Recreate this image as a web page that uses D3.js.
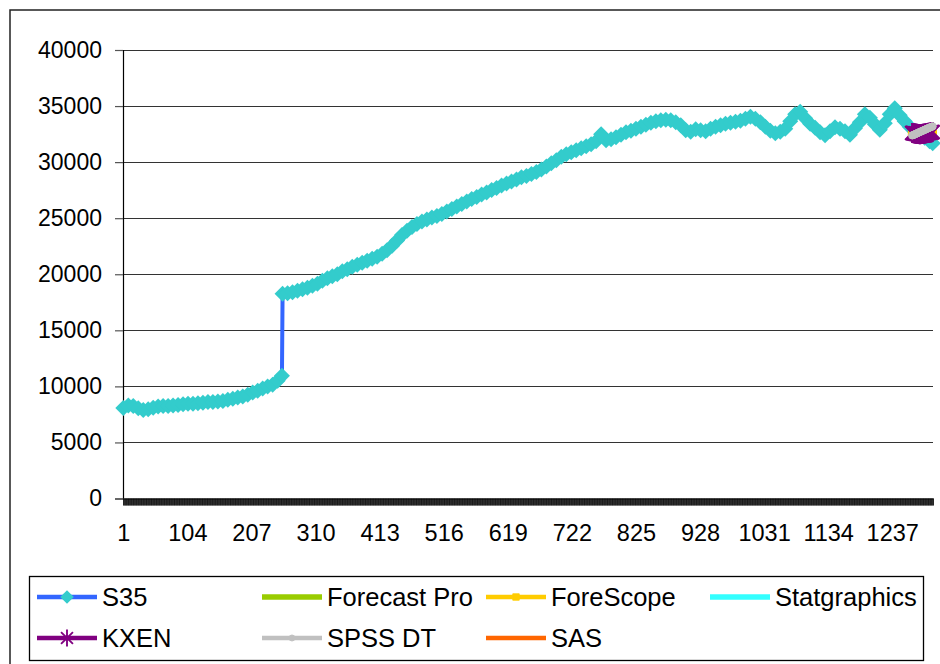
<!DOCTYPE html>
<html>
<head>
<meta charset="utf-8">
<script src="https://cdn.jsdelivr.net/npm/d3@7"></script>
<style>
  body { margin: 0; background: #fff; }
  svg { display: block; }
  text { font-family: "Liberation Sans", Arial, sans-serif; fill: #000; }
</style>
</head>
<body>
<svg id="chart" width="940" height="664"></svg>
<script>
// ---- data ---------------------------------------------------------------
const categoryCount = 1302;
const xTickLabels = [1, 104, 207, 310, 413, 516, 619, 722, 825, 928, 1031, 1134, 1237];
const yTickValues = [0, 5000, 10000, 15000, 20000, 25000, 30000, 35000, 40000];

// S35 history (period number, value)
const s35Periods = [
  1, 9, 17, 25, 33, 41, 49, 57, 65, 73,
  81, 89, 97, 105, 113, 121, 129, 137, 145, 153,
  161, 169, 177, 185, 193, 201, 209, 217, 225, 233,
  241, 249, 256,
  257, 265, 273, 281, 289, 297, 305, 313, 321, 329,
  337, 345, 353, 361, 369, 377, 385, 393, 401, 409,
  417, 425, 433, 441, 449, 457, 465, 473, 481, 489,
  497, 505, 513, 521, 529, 537, 545, 553, 561, 569,
  577, 585, 593, 601, 609, 617, 625, 633, 641, 649,
  657, 665, 673, 681, 689, 697, 705, 713, 721, 729,
  737, 745, 753, 761, 769, 777, 785, 793, 801, 809,
  817, 825, 833, 841, 849, 857, 865, 873, 881, 889,
  897, 905, 913, 921, 929, 937, 945, 953, 961, 969,
  977, 985, 993, 1001, 1009, 1017, 1025, 1033, 1041, 1049,
  1057, 1065, 1073, 1081, 1089, 1097, 1105, 1113, 1121, 1129,
  1137, 1145, 1153, 1161, 1169, 1177, 1185, 1193, 1201, 1209,
  1217, 1225, 1233, 1241, 1249, 1257, 1265, 1273, 1281, 1289,
  1297, 1302
];
const s35Values = [
  8080, 8300, 8250, 8050, 7900, 7950, 8100, 8200, 8250, 8250,
  8300, 8350, 8400, 8450, 8450, 8500, 8550, 8600, 8600, 8650,
  8700, 8800, 8900, 9000, 9100, 9250, 9450, 9600, 9800, 10000,
  10150, 10500, 10950,
  18250, 18300, 18390, 18520, 18660, 18790, 18970, 19150, 19420, 19640,
  19820, 20000, 20270, 20450, 20670, 20850, 21030, 21210, 21390, 21570,
  21830, 22150, 22550, 23000, 23490, 23890, 24210, 24480, 24700, 24880,
  25060, 25190, 25370, 25590, 25820, 26040, 26260, 26490, 26710, 26890,
  27120, 27290, 27520, 27700, 27920, 28100, 28280, 28460, 28640, 28770,
  28950, 29130, 29350, 29620, 29890, 30160, 30470, 30700, 30880, 31050,
  31230, 31410, 31590, 31860, 32480, 31950, 32040, 32220, 32440, 32660,
  32800, 32980, 33160, 33330, 33510, 33650, 33740, 33780, 33740, 33560,
  33290, 32840, 32710, 32930, 32840, 32750, 32980, 33160, 33290, 33420,
  33510, 33600, 33690, 33870, 34050, 33870, 33560, 33160, 32800, 32570,
  32710, 32980, 33650, 34270, 34500, 33920, 33420, 33070, 32660, 32400,
  32750, 33110, 32980, 32750, 32440, 33020, 33560, 34270, 33960, 33380,
  32890, 33470, 34270, 34810, 34180, 33650, 33160, 32800, 32480, 32170,
  31860, 31680
];

// forecast horizon
const forecastPeriods = [
  1269, 1270, 1271, 1272, 1273, 1274, 1275, 1276, 1277, 1278,
  1279, 1280, 1281, 1282, 1283, 1284, 1285, 1286, 1287, 1288,
  1289, 1290, 1291, 1292, 1293, 1294, 1295, 1296, 1297, 1298,
  1299, 1300, 1301, 1302
];
const forecastProValues = [];
const foreScopeValues = [
  32500, 32510, 32520, 32530, 32540, 32550, 32560, 32570, 32560, 32550,
  32540, 32550, 32560, 32570, 32580, 32590, 32600, 32610, 32620, 32610,
  32600, 32590, 32600, 32610, 32620, 32630, 32640, 32630, 32620, 32610,
  32600, 32590, 32580, 32570
];
const statgraphicsValues = [];
const kxenValues = [
  32600, 32590, 32580, 32570, 32560, 32550, 32540, 32530, 32520, 32510,
  32500, 32500, 32490, 32490, 32500, 32500, 32510, 32520, 32530, 32540,
  32550, 32560, 32570, 32580, 32590, 32600, 32610, 32620, 32630, 32640,
  32650, 32660, 32670, 32680
];
const spssDtValues = [
  32380, 32400, 32420, 32450, 32470, 32500, 32520, 32550, 32580, 32600,
  32630, 32650, 32680, 32700, 32730, 32750, 32780, 32800, 32830, 32850,
  32880, 32900, 32930, 32950, 32980, 33000, 33030, 33050, 33080, 33100,
  33120, 33150, 33170, 33190
];
const sasValues = [];

// ---- layout -------------------------------------------------------------
const plot = { left: 123, right: 933, top: 50, bottom: 498.5 };
const svg = d3.select("#chart");

// outer chart frame (continues past the page edge)
svg.append("rect")
  .attr("x", 10).attr("y", 10).attr("width", 1000).attr("height", 800)
  .attr("fill", "none").attr("stroke", "#222").attr("stroke-width", 1.5);

const x = d3.scaleLinear().domain([0.5, categoryCount + 0.5]).range([plot.left, plot.right]);
const y = d3.scaleLinear().domain([0, 40000]).range([plot.bottom, plot.top]);

// horizontal gridlines
svg.append("g")
  .selectAll("line")
  .data(yTickValues.filter(v => v > 0))
  .join("line")
  .attr("x1", plot.left).attr("x2", plot.right)
  .attr("y1", d => Math.round(y(d)) + 0.5).attr("y2", d => Math.round(y(d)) + 0.5)
  .attr("stroke", "#333").attr("stroke-width", 1);

// value axis
const yAxis = svg.append("g")
  .attr("transform", `translate(${plot.left},0)`)
  .call(d3.axisLeft(y).tickValues(yTickValues).tickFormat(d3.format("d")).tickSize(8).tickPadding(13));
yAxis.select(".domain").attr("stroke", "#000").attr("stroke-width", 1.2);
yAxis.selectAll(".tick line").attr("stroke", "#555").attr("stroke-width", 1.2);
yAxis.selectAll(".tick text")
  .attr("font-size", 23).attr("dy", "0.32em")
  .style("font-family", '"Liberation Sans", Arial, sans-serif');

// category axis: a tick between each pair of periods
const boundaries = d3.range(0, categoryCount + 1).map(i => i + 0.5);
const xAxis = svg.append("g")
  .attr("transform", `translate(0,${plot.bottom})`)
  .call(d3.axisBottom(x).tickValues(boundaries).tickFormat("").tickSize(7).tickSizeOuter(0));
xAxis.select(".domain").attr("stroke", "#666").attr("stroke-width", 1.5);
xAxis.selectAll(".tick line").attr("stroke", "#000").attr("stroke-width", 0.8);

const xLabels = svg.append("g")
  .attr("transform", `translate(0,${plot.bottom})`)
  .call(d3.axisBottom(x).tickValues(xTickLabels).tickSize(0).tickPadding(26).tickFormat(d3.format("d")));
xLabels.select(".domain").remove();
xLabels.selectAll(".tick text")
  .attr("font-size", 23.5)
  .style("font-family", '"Liberation Sans", Arial, sans-serif');

// ---- marker shapes --------------------------------------------------------
const diamond = r => `M0,${-r}L${r},0L0,${r}L${-r},0Z`;
const markerDraw = {
  diamond: g => g.append("path").attr("d", diamond(8)).attr("fill", "#33CCCC"),
  square: g => g.append("path").attr("d", "M-3.8,-3.8H3.8V3.8H-3.8Z")
    .attr("fill", "#FFCC00").attr("stroke", "#FFCC00").attr("stroke-width", 1),
  star: g => g.append("path").attr("d", "M0,-10V10M-7,-7L7,7M-7,7L7,-7")
    .attr("fill", "none").attr("stroke", "#800080").attr("stroke-width", 2.2),
  circle: g => g.append("path").attr("d", d3.symbol(d3.symbolCircle, 40)())
    .attr("fill", "#C0C0C0").attr("stroke", "#C0C0C0").attr("stroke-width", 1)
};

const series = [
  { name: "S35", periods: s35Periods, values: s35Values, color: "#3366FF", width: 4, marker: "diamond" },
  { name: "Forecast Pro", periods: forecastPeriods, values: forecastProValues, color: "#99CC00", width: 5 },
  { name: "ForeScope", periods: forecastPeriods, values: foreScopeValues, color: "#FFCC00", width: 4, marker: "square" },
  { name: "Statgraphics", periods: forecastPeriods, values: statgraphicsValues, color: "#33FFFF", width: 5 },
  { name: "KXEN", periods: forecastPeriods, values: kxenValues, color: "#800080", width: 4, marker: "star" },
  { name: "SPSS DT", periods: forecastPeriods, values: spssDtValues, color: "#C0C0C0", width: 4, marker: "circle" },
  { name: "SAS", periods: forecastPeriods, values: sasValues, color: "#FF6600", width: 4 }
];

const line = d3.line().x(d => x(d.p)).y(d => y(d.v));

series.forEach(s => {
  const pts = s.values.map((v, i) => ({ p: s.periods[i], v }));
  const g = svg.append("g").attr("class", "series");
  if (!pts.length) return;
  g.append("path").datum(pts).attr("d", line)
    .attr("fill", "none").attr("stroke", s.color).attr("stroke-width", s.width)
    .attr("stroke-linejoin", "round");
  if (s.marker) {
    g.selectAll("g.mk").data(pts).join("g").attr("class", "mk")
      .attr("transform", d => `translate(${x(d.p)},${y(d.v)})`)
      .each(function () { markerDraw[s.marker](d3.select(this)); });
  }
});

// ---- legend ---------------------------------------------------------------
svg.append("rect")
  .attr("x", 29.5).attr("y", 576.5).attr("width", 894).attr("height", 84)
  .attr("fill", "#fff").attr("stroke", "#000").attr("stroke-width", 1.3);

const legendCols = [37, 262, 486, 710];
const legendRows = [597, 638];
const sampleLength = 60;

series.forEach((s, i) => {
  const cx = legendCols[i % 4], cy = legendRows[Math.floor(i / 4)];
  const g = svg.append("g").attr("transform", `translate(${cx},${cy})`);
  g.append("line").attr("x1", 0).attr("x2", sampleLength).attr("y1", 0).attr("y2", 0)
    .attr("stroke", s.color).attr("stroke-width", s.width + 0.5);
  if (s.marker) {
    const m = g.append("g").attr("transform", `translate(${sampleLength / 2},0) scale(0.85)`);
    markerDraw[s.marker](m);
  }
  g.append("text").attr("x", sampleLength + 5).attr("y", 0).attr("dy", "0.35em")
    .attr("font-size", 25.5).text(s.name);
});
</script>
</body>
</html>
